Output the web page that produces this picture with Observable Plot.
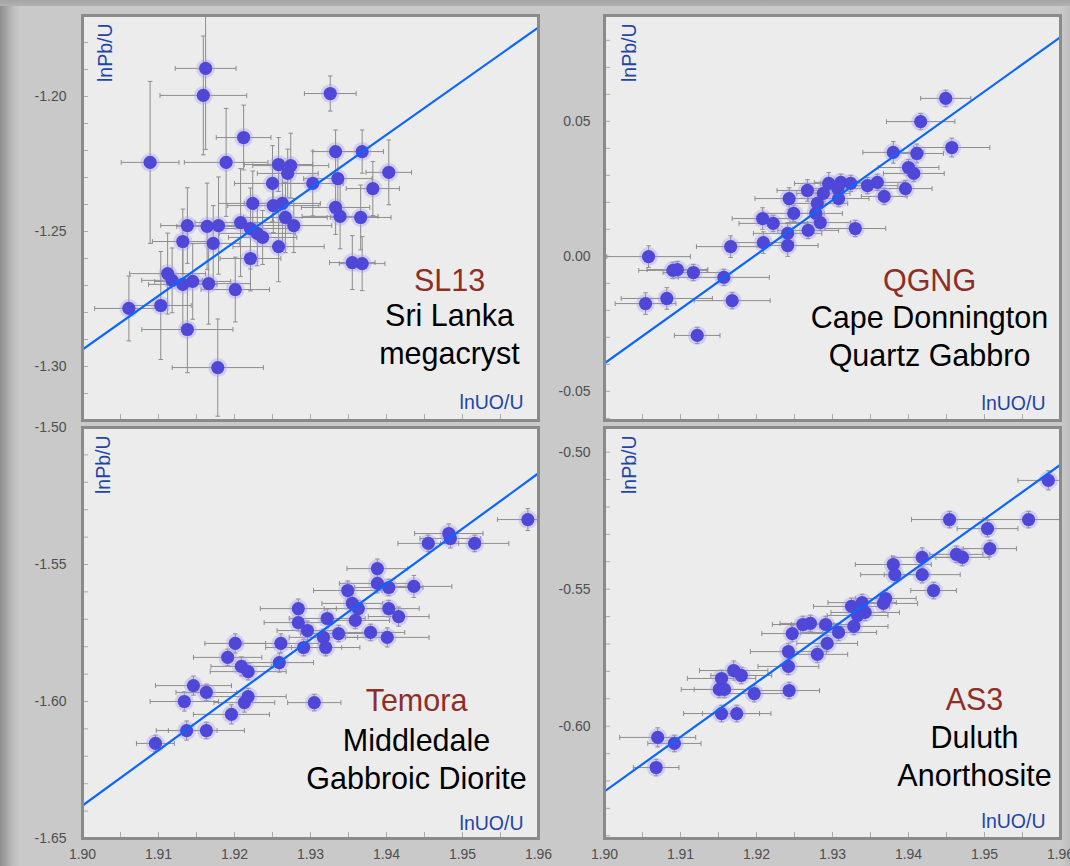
<!DOCTYPE html>
<html>
<head>
<meta charset="utf-8">
<script src="https://cdn.jsdelivr.net/npm/d3@7"></script>
<script src="https://cdn.jsdelivr.net/npm/@observablehq/plot@0.6"></script>
<style>
html, body { margin: 0; padding: 0; background: #c8c8c8; }
#wrap { position: relative; width: 1070px; height: 866px; overflow: hidden;
  background: linear-gradient(to right, #8e8e8e 0px, #a6a6a6 7px, #bcbcbc 13px, #c9c9c9 20px, #c9c9c9 1062px, #bdbdbd 1070px); }
#topstrip { position: absolute; left: 0; top: 0; width: 1070px; height: 6px; background: linear-gradient(to bottom, #a4a4a4, #b2b2b2); }
.panel { position: absolute; }
.panel svg { overflow: visible; }
</style>
</head>
<body>
<div id="wrap"><div id="topstrip"></div></div>
<script>
// ---------- shared axis data ----------
const xDomain = [1.90, 1.96];
const xTickLabels = [1.90, 1.91, 1.92, 1.93, 1.94, 1.95, 1.96];
const axisLabelY = "lnPb/U";
const axisLabelX = "lnUO/U";

// ---------- SL13 (top left) ----------
const sl13X = [1.9162, 1.9159, 1.9326, 1.9212, 1.9089, 1.9189, 1.9333, 1.9368, 1.9258, 1.9274, 1.9270, 1.9250, 1.9303, 1.9336, 1.9403, 1.9382, 1.9224, 1.9251, 1.9263, 1.9333, 1.9339, 1.9366, 1.9267, 1.9278, 1.9138, 1.9164, 1.9179, 1.9208, 1.9132, 1.9172, 1.9221, 1.9230, 1.9237, 1.9258, 1.9221, 1.9355, 1.9368, 1.9112, 1.9118, 1.9132, 1.9145, 1.9166, 1.9201, 1.9061, 1.9103, 1.9138, 1.9178];
const sl13Y = [-1.1896, -1.1996, -1.1989, -1.2152, -1.2244, -1.2244, -1.2204, -1.2204, -1.2252, -1.2256, -1.2285, -1.2322, -1.2322, -1.2304, -1.2281, -1.2341, -1.2396, -1.2404, -1.2396, -1.2411, -1.2444, -1.2448, -1.2448, -1.2478, -1.2478, -1.2481, -1.2478, -1.2467, -1.2537, -1.2544, -1.2489, -1.2507, -1.2522, -1.2556, -1.2600, -1.2615, -1.2619, -1.2656, -1.2681, -1.2696, -1.2685, -1.2693, -1.2715, -1.2785, -1.2774, -1.2863, -1.3004];
const sl13XErr = [.0040, .0057, .0034, .0036, .0038, .0055, .0030, .0028, .0045, .0050, .0040, .0050, .0040, .0045, .0030, .0035, .0045, .0060, .0050, .0045, .0050, .0040, .0055, .0050, .0035, .0040, .0045, .0060, .0040, .0035, .0055, .0050, .0045, .0060, .0040, .0030, .0030, .0050, .0040, .0045, .0050, .0055, .0045, .0045, .0040, .0060, .0060];
const sl13YErr = [.030, .022, .0065, .012, .030, .020, .008, .008, .010, .012, .009, .014, .012, .010, .012, .010, .012, .010, .015, .010, .012, .012, .013, .010, .014, .016, .018, .020, .012, .014, .015, .012, .010, .013, .012, .010, .010, .015, .012, .016, .014, .015, .012, .012, .020, .016, .018];
const sl13FitX = [1.90, 1.96];
const sl13FitY = [-1.2937, -1.1744];
const sl13YDomain = [-1.32, -1.17];
const sl13YTicks = [-1.30, -1.25, -1.20];

// ---------- QGNG (top right) ----------
const qgngX = [1.9449, 1.9416, 1.9457, 1.9380, 1.9411, 1.9400, 1.9407, 1.9359, 1.9346, 1.9396, 1.9368, 1.9295, 1.9311, 1.9324, 1.9307, 1.9267, 1.9288, 1.9308, 1.9243, 1.9280, 1.9249, 1.9278, 1.9208, 1.9222, 1.9284, 1.9268, 1.9330, 1.9241, 1.9166, 1.9209, 1.9241, 1.9058, 1.9090, 1.9096, 1.9117, 1.9157, 1.9054, 1.9082, 1.9168, 1.9122];
const qgngY = [0.0585, 0.0499, 0.0403, 0.0385, 0.0381, 0.0329, 0.0307, 0.0274, 0.0262, 0.0251, 0.0222, 0.0270, 0.0274, 0.0270, 0.0251, 0.0244, 0.0233, 0.0214, 0.0214, 0.0196, 0.0159, 0.0159, 0.0140, 0.0122, 0.0125, 0.0096, 0.0103, 0.0085, 0.0036, 0.0051, 0.0040, -0.0001, -0.0052, -0.0049, -0.0060, -0.0078, -0.0175, -0.0156, -0.0164, -0.0293];
const qgngXErr = [.0033, .0045, .0050, .0040, .0035, .0040, .0040, .0035, .0040, .0035, .0030, .0045, .0035, .0040, .0045, .0040, .0035, .0040, .0045, .0040, .0040, .0035, .0040, .0045, .0040, .0040, .0040, .0045, .0045, .0040, .0040, .0055, .0045, .0040, .0040, .0060, .0040, .0060, .0050, .0030];
const qgngYErr = [.003, .003, .0035, .004, .0035, .003, .003, .003, .003, .003, .003, .004, .003, .003, .003, .004, .003, .003, .004, .004, .003, .003, .004, .003, .003, .003, .003, .004, .004, .004, .004, .004, .003, .003, .003, .003, .004, .004, .003, .003];
const qgngFitX = [1.90, 1.96];
const qgngFitY = [-0.0396, 0.0812];
const qgngYDomain = [-0.0608, 0.0892];
const qgngYTicks = [-0.05, 0.00, 0.05];

// ---------- Temora (bottom left) ----------
const temoraX = [1.9586, 1.9482, 1.9484, 1.9455, 1.9516, 1.9388, 1.9388, 1.9403, 1.9349, 1.9436, 1.9355, 1.9363, 1.9403, 1.9416, 1.9359, 1.9322, 1.9284, 1.9284, 1.9296, 1.9337, 1.9379, 1.9401, 1.9317, 1.9261, 1.9201, 1.9291, 1.9320, 1.9191, 1.9209, 1.9218, 1.9259, 1.9146, 1.9163, 1.9134, 1.9218, 1.9213, 1.9305, 1.9196, 1.9137, 1.9163, 1.9096];
const temoraY = [-1.5336, -1.5387, -1.5405, -1.5423, -1.5423, -1.5515, -1.5569, -1.5584, -1.5595, -1.5580, -1.5642, -1.5661, -1.5661, -1.5690, -1.5704, -1.5697, -1.5661, -1.5712, -1.5741, -1.5752, -1.5748, -1.5766, -1.5766, -1.5788, -1.5788, -1.5803, -1.5803, -1.5839, -1.5872, -1.5891, -1.5858, -1.5942, -1.5967, -1.6000, -1.5982, -1.6004, -1.6004, -1.6047, -1.6106, -1.6106, -1.6153];
const temoraXErr = [.0040, .0045, .0040, .0040, .0045, .0040, .0050, .0045, .0045, .0050, .0040, .0045, .0040, .0040, .0045, .0050, .0050, .0045, .0040, .0050, .0045, .0055, .0045, .0050, .0040, .0050, .0045, .0045, .0040, .0050, .0045, .0050, .0040, .0045, .0050, .0040, .0035, .0050, .0040, .0050, .0025];
const temoraYErr = [.0040, .0035, .0035, .0030, .0030, .0035, .0035, .0030, .0035, .0040, .0035, .0030, .0030, .0035, .0030, .0035, .0035, .0030, .0035, .0030, .0030, .0035, .0030, .0035, .0035, .0030, .0030, .0030, .0035, .0030, .0035, .0035, .0030, .0035, .0030, .0035, .0030, .0035, .0035, .0030, .0030];
const temoraFitX = [1.90, 1.96];
const temoraFitY = [-1.6380, -1.5167];
const temoraYDomain = [-1.65, -1.50];
const temoraYTicks = [-1.65, -1.60, -1.55, -1.50];

// ---------- AS3 (bottom right) ----------
const as3X = [1.9584, 1.9454, 1.9558, 1.9504, 1.9507, 1.9463, 1.9471, 1.9418, 1.9380, 1.9382, 1.9418, 1.9433, 1.9370, 1.9367, 1.9339, 1.9325, 1.9343, 1.9333, 1.9291, 1.9271, 1.9261, 1.9328, 1.9308, 1.9247, 1.9293, 1.9242, 1.9280, 1.9242, 1.9170, 1.9180, 1.9154, 1.9151, 1.9158, 1.9197, 1.9243, 1.9154, 1.9174, 1.9070, 1.9092, 1.9068];
const as3Y = [-0.5103, -0.5246, -0.5246, -0.5279, -0.5352, -0.5373, -0.5384, -0.5384, -0.5410, -0.5447, -0.5447, -0.5505, -0.5534, -0.5552, -0.5549, -0.5563, -0.5585, -0.5596, -0.5629, -0.5625, -0.5629, -0.5636, -0.5658, -0.5662, -0.5698, -0.5728, -0.5738, -0.5782, -0.5797, -0.5815, -0.5826, -0.5866, -0.5866, -0.5881, -0.5870, -0.5954, -0.5954, -0.6041, -0.6063, -0.6151];
const as3XErr = [.0040, .0050, .0060, .0040, .0035, .0035, .0035, .0040, .0050, .0045, .0050, .0030, .0040, .0045, .0045, .0050, .0045, .0040, .0045, .0040, .0040, .0045, .0050, .0040, .0040, .0050, .0040, .0040, .0045, .0040, .0045, .0050, .0040, .0045, .0040, .0050, .0045, .0050, .0035, .0030];
const as3YErr = [.0035, .0030, .0030, .0030, .0030, .0030, .0030, .0035, .0030, .0030, .0030, .0030, .0030, .0030, .0030, .0030, .0030, .0030, .0030, .0030, .0030, .0030, .0030, .0030, .0030, .0030, .0030, .0030, .0035, .0030, .0030, .0030, .0030, .0030, .0030, .0030, .0030, .0035, .0030, .0030];
const as3FitX = [1.90, 1.96];
const as3FitY = [-0.6238, -0.5046];
const as3YDomain = [-0.641, -0.491];
const as3YTicks = [-0.60, -0.55, -0.50];

// ---------- panel labels ----------
const panelCodes = ["SL13", "QGNG", "Temora", "AS3"];
const panelNames = ["Sri Lanka\nmegacryst", "Cape Donnington\nQuartz Gabbro", "Middledale\nGabbroic Diorite", "Duluth\nAnorthosite"];

const FONT = "Liberation Sans, Arial, Helvetica, sans-serif";

function panel(cfg) {
  const data = cfg.x.map((x, i) => ({x, y: cfg.y[i], xe: cfg.xe[i] ?? 0.004, ye: cfg.ye[i] ?? 0.003}));
  const fit = cfg.fitX.map((x, i) => ({x, y: cfg.fitY[i]}));
  const [y0, y1] = cfg.yDomain;
  const yMinor = d3.range(Math.ceil(y0 * 100 - 1e-6), Math.floor(y1 * 100 + 1e-6) + 1).map(v => v / 100);
  const xMinor = d3.range(381, 392).map(v => v / 200);
  const capX = 0.0003, capY = 0.0009;
  const err = {stroke: "#8d8d8d", strokeWidth: 1, clip: true};
  const marks = [
    Plot.frame({fill: "#ececec", stroke: null}),
    Plot.ruleY(yMinor, {x1: xDomain[0], x2: xDomain[0] + 0.0008, stroke: "#aaaaaa"}),
    Plot.ruleX(xMinor, {y1: y0, y2: y0 + 0.0022, stroke: "#aaaaaa"}),
    Plot.link(data, {x1: d => d.x - d.xe, x2: d => d.x + d.xe, y1: "y", y2: "y", ...err}),
    Plot.link(data, {x1: "x", x2: "x", y1: d => d.y - d.ye, y2: d => d.y + d.ye, ...err}),
    Plot.link(data, {x1: d => d.x - capX, x2: d => d.x + capX, y1: d => d.y - d.ye, y2: d => d.y - d.ye, ...err}),
    Plot.link(data, {x1: d => d.x - capX, x2: d => d.x + capX, y1: d => d.y + d.ye, y2: d => d.y + d.ye, ...err}),
    Plot.link(data, {x1: d => d.x - d.xe, x2: d => d.x - d.xe, y1: d => d.y - capY, y2: d => d.y + capY, ...err}),
    Plot.link(data, {x1: d => d.x + d.xe, x2: d => d.x + d.xe, y1: d => d.y - capY, y2: d => d.y + capY, ...err}),
    Plot.dot(data, {x: "x", y: "y", r: 9.5, fill: "#a29cf2", fillOpacity: 0.35}),
    Plot.dot(data, {x: "x", y: "y", r: 6.6, fill: "#4f47d8"}),
    Plot.line(fit, {x: "x", y: "y", stroke: "#0a66ff", strokeWidth: 2.2, clip: true}),
    Plot.frame({stroke: "#8a8a8a", strokeWidth: 3}),
    Plot.axisY(cfg.yTicks, {anchor: "left", label: null, tickSize: 0, tickPadding: cfg.yPad, tickFormat: d => d.toFixed(2), fontSize: 14, fill: "#4f4f4f"}),
    Plot.text([axisLabelY], {text: d => d, frameAnchor: "top-left", rotate: -90, textAnchor: "end", lineAnchor: "bottom", dx: cfg.ylabDx, dy: 8, fontSize: 19.5, fill: "#1f45a8", fontFamily: FONT}),
    Plot.text([axisLabelX], {text: d => d, frameAnchor: "bottom-right", textAnchor: "end", lineAnchor: "bottom", dx: -15, dy: cfg.xlabDy, fontSize: 19.5, fill: "#1f45a8", fontFamily: FONT}),
    Plot.text([cfg.code], {text: d => d, frameAnchor: "top-left", textAnchor: "middle", lineAnchor: "bottom", dx: cfg.cx, dy: cfg.codeBase, fontSize: 30.5, fill: "#8c2f27", fontFamily: FONT}),
    Plot.text([cfg.name], {text: d => d, frameAnchor: "top-left", textAnchor: "middle", lineAnchor: "bottom", dx: cfg.cx, dy: cfg.nameBase, fontSize: 30.5, lineHeight: 1.22, fill: "#000000", fontFamily: FONT})
  ];
  if (cfg.showX) {
    marks.push(Plot.axisX(xTickLabels, {anchor: "bottom", label: null, tickSize: 0, tickPadding: 11, tickFormat: d => d.toFixed(2), fontSize: 14, fill: "#4f4f4f"}));
  }
  const svg = Plot.plot({
    width: cfg.width, height: cfg.height,
    marginLeft: cfg.ml, marginRight: cfg.mr, marginTop: cfg.mt, marginBottom: cfg.mb,
    x: {domain: xDomain, axis: null},
    y: {domain: cfg.yDomain, axis: null},
    style: {background: "transparent", fontFamily: FONT, overflow: "visible", color: "#4f4f4f"},
    marks
  });
  const div = document.createElement("div");
  div.className = "panel";
  div.style.left = cfg.left + "px";
  div.style.top = cfg.top + "px";
  div.appendChild(svg);
  document.getElementById("wrap").appendChild(div);
}

panel({x: sl13X, y: sl13Y, xe: sl13XErr, ye: sl13YErr, fitX: sl13FitX, fitY: sl13FitY, yDomain: sl13YDomain, yTicks: sl13YTicks,
  code: panelCodes[0], name: panelNames[0], showX: false,
  left: 0, top: 0, width: 540, height: 425, ml: 82, mr: 2, mt: 15, mb: 5, yPad: 16, ylabDx: 29, xlabDy: -12, cx: 367, codeBase: 275, nameBase: 348});
panel({x: qgngX, y: qgngY, xe: qgngXErr, ye: qgngYErr, fitX: qgngFitX, fitY: qgngFitY, yDomain: qgngYDomain, yTicks: qgngYTicks,
  code: panelCodes[1], name: panelNames[1], showX: false,
  left: 540, top: 0, width: 530, height: 425, ml: 64, mr: 10, mt: 15, mb: 5, yPad: 14, ylabDx: 31, xlabDy: -11, cx: 325, codeBase: 275, nameBase: 350});
panel({x: temoraX, y: temoraY, xe: temoraXErr, ye: temoraYErr, fitX: temoraFitX, fitY: temoraFitY, yDomain: temoraYDomain, yTicks: temoraYTicks,
  code: panelCodes[2], name: panelNames[2], showX: true,
  left: 0, top: 425, width: 540, height: 441, ml: 82, mr: 2, mt: 2, mb: 28, yPad: 16, ylabDx: 27, xlabDy: -9, cx: 334, codeBase: 283, nameBase: 361});
panel({x: as3X, y: as3Y, xe: as3XErr, ye: as3YErr, fitX: as3FitX, fitY: as3FitY, yDomain: as3YDomain, yTicks: as3YTicks,
  code: panelCodes[3], name: panelNames[3], showX: true,
  left: 540, top: 425, width: 530, height: 441, ml: 64, mr: 10, mt: 2, mb: 28, yPad: 14, ylabDx: 31, xlabDy: -11, cx: 370, codeBase: 282, nameBase: 358});
</script>
</body>
</html>
